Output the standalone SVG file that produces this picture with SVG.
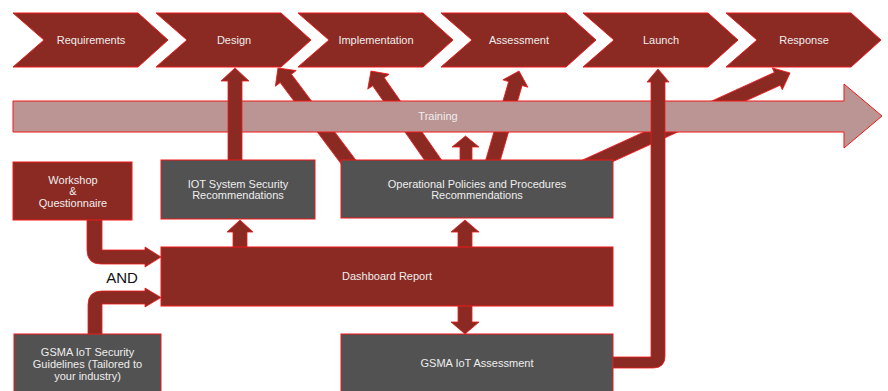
<svg xmlns="http://www.w3.org/2000/svg" width="888" height="391" viewBox="0 0 888 391">
<style>
.red{fill:#8a2a23;stroke:#f01818;stroke-width:1}
.gray{fill:#525252;stroke:#f01818;stroke-width:1}
.arr{fill:#8a2a23;stroke:#f01818;stroke-width:0.8}
.trn{fill:#bb9593;stroke:#f01818;stroke-width:1}
text{font-family:"Liberation Sans",Arial,sans-serif;font-size:11px;fill:#eeeeee;text-anchor:middle}
.and{font-size:15px;fill:#111111}
</style>
<rect width="888" height="391" fill="#ffffff"/>
<g id="phases">
<g id="requirements"><polygon class="red" points="13,13 138,13 168,40 138,67 13,67 44,40"/><text x="91" y="44">Requirements</text></g>
<g id="design"><polygon class="red" points="156,13 281,13 311,40 281,67 156,67 187,40"/><text x="234" y="44">Design</text></g>
<g id="implementation"><polygon class="red" points="298,13 423,13 453,40 423,67 298,67 329,40"/><text x="376" y="44">Implementation</text></g>
<g id="assessment"><polygon class="red" points="441,13 566,13 596,40 566,67 441,67 472,40"/><text x="519" y="44">Assessment</text></g>
<g id="launch"><polygon class="red" points="583,13 708,13 738,40 708,67 583,67 614,40"/><text x="661" y="44">Launch</text></g>
<g id="response"><polygon class="red" points="726,13 851,13 881,40 851,67 726,67 757,40"/><text x="804" y="44">Response</text></g>
</g>
<g id="connectors-back">
<path class="arr" transform="translate(351.8,166.4) rotate(-36.87)" d="M-7,0 L-7,-110 L-13,-110 L0,-123 L13,-110 L7,-110 L7,0 Z"/>
<path class="arr" transform="translate(437.6,166.6) rotate(-34.87)" d="M-7,0 L-7,-103.5 L-13,-103.5 L0,-116.5 L13,-103.5 L7,-103.5 L7,0 Z"/>
<path class="arr" transform="translate(490.8,167.7) rotate(16.28)" d="M-7,0 L-7,-87.7 L-13,-87.7 L0,-100.7 L13,-87.7 L7,-87.7 L7,0 Z"/>
<path class="arr" transform="translate(582,168) rotate(65.45)" d="M-7,0 L-7,-214.7 L-12,-214.7 L0,-228.7 L12,-214.7 L7,-214.7 L7,0 Z"/>
</g>
<g id="training">
<polygon class="trn" points="13,101 844,101 844,84 882,116 844,148 844,132 13,132"/>
<text x="438" y="120">Training</text>
</g>
<g id="connectors">
<path class="arr" d="M228,165 L228,81 L221,81 L235,68 L249,81 L242,81 L242,165 Z"/>
<path class="arr" d="M605,357 L651,357 L651,82 L647,82 L658,69 L669,82 L665,82 L665,356 Q665,368 653,368 L605,368 Z"/>
<path class="arr" d="M460,165 L460,147 L452,147 L465.5,136 L479,147 L472,147 L472,165 Z"/>
<path class="arr" d="M87,215 L87,250 Q87,264 101,264 L145,264 L145,267 L161,257 L145,247 L145,250 L102,250 L102,215 Z"/>
<path class="arr" d="M88,340 L88,305 Q88,291 102,291 L145,291 L145,288 L161,297.5 L145,307 L145,304 L102,304 L102,340 Z"/>
<path class="arr" d="M233,252 L233,232 L227,232 L240,220 L253,232 L247,232 L247,252 Z"/>
<path class="arr" d="M458,252 L458,232 L451,232 L465,220 L479,232 L472,232 L472,252 Z"/>
<path class="arr" d="M458,300 L458,322 L451,322 L465,334 L479,322 L472,322 L472,300 Z"/>
</g>
<g id="workshop"><rect class="red" x="13" y="162" width="119" height="58"/><text x="73" y="184">Workshop</text><text x="73" y="195">&amp;</text><text x="73" y="207">Questionnaire</text></g>
<g id="iot-recommendations"><rect class="gray" x="161" y="160" width="154" height="59"/><text x="238" y="188">IOT System Security</text><text x="238" y="199">Recommendations</text></g>
<g id="operational-policies"><rect class="gray" x="341" y="160" width="272" height="58"/><text x="477" y="188">Operational Policies and Procedures</text><text x="477" y="199">Recommendations</text></g>
<g id="dashboard"><rect class="red" x="161" y="247" width="452" height="59"/><text x="387" y="280">Dashboard Report</text></g>
<g id="gsma-assessment"><rect class="gray" x="341" y="334" width="272" height="70"/><text x="477" y="367">GSMA IoT Assessment</text></g>
<g id="gsma-guidelines"><rect class="gray" x="14" y="334" width="147" height="70"/><text x="87.5" y="356">GSMA IoT Security</text><text x="87.5" y="368">Guidelines (Tailored to</text><text x="87.5" y="380">your industry)</text></g>
<g id="and-label"><text class="and" x="122" y="283">AND</text></g>
</svg>
